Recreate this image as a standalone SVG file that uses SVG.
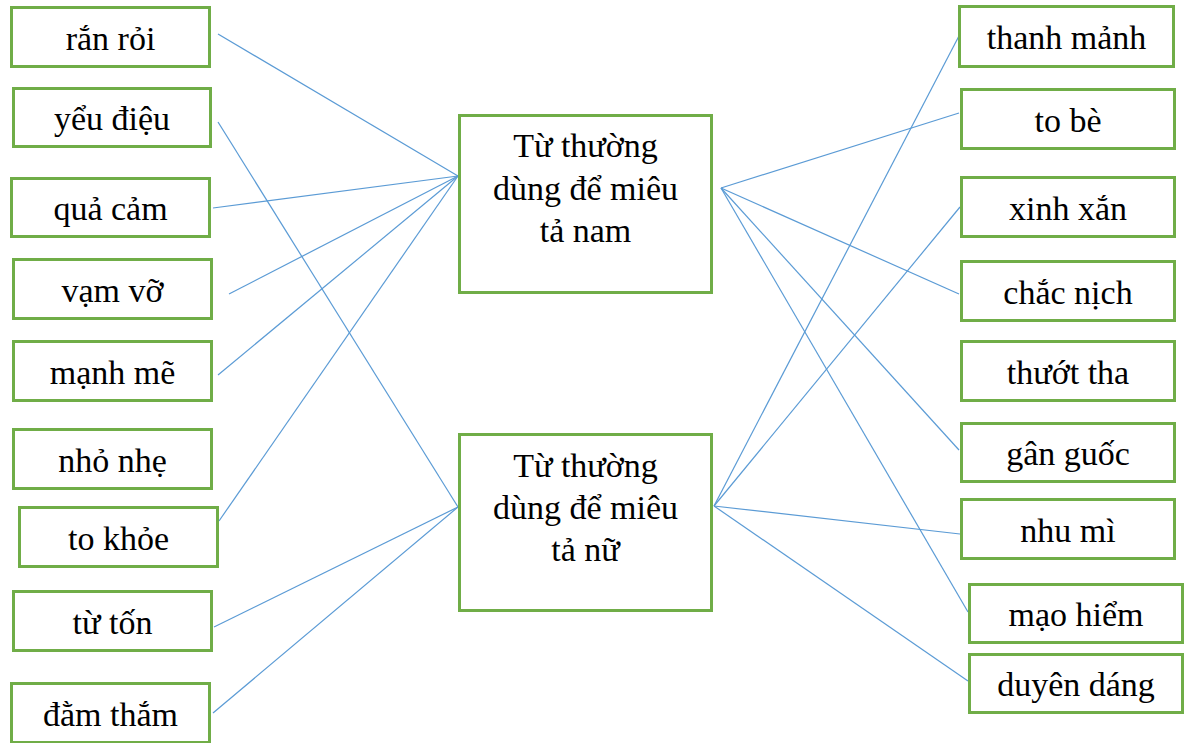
<svg xmlns="http://www.w3.org/2000/svg" width="1184" height="743" viewBox="0 0 1184 743">
  <style>
    .box { fill: #ffffff; stroke: #70AD47; stroke-width: 3; }
    .lbl { font-family: "Liberation Serif", "Times New Roman", serif; font-size: 34px; fill: #000000; text-anchor: middle; }
    .link { stroke: #5B9BD5; stroke-width: 1.2; fill: none; }
  </style>
  <rect width="1184" height="743" fill="#ffffff"/>

  <!-- connectors -->
  <g id="connectors">
    <!-- left words to "nam" -->
    <line class="link" x1="218" y1="34" x2="458" y2="176"/>
    <line class="link" x1="213" y1="208" x2="458" y2="176"/>
    <line class="link" x1="229" y1="294" x2="458" y2="176"/>
    <line class="link" x1="218" y1="375" x2="458" y2="176"/>
    <line class="link" x1="219" y1="521" x2="458" y2="176"/>
    <!-- left words to "nữ" -->
    <line class="link" x1="218" y1="122" x2="458" y2="507"/>
    <line class="link" x1="214" y1="627" x2="458" y2="507"/>
    <line class="link" x1="213" y1="713" x2="458" y2="507"/>
    <!-- "nam" to right words -->
    <line class="link" x1="721" y1="188" x2="959" y2="113"/>
    <line class="link" x1="721" y1="188" x2="959" y2="294"/>
    <line class="link" x1="721" y1="188" x2="959" y2="450"/>
    <line class="link" x1="721" y1="188" x2="968" y2="612"/>
    <!-- "nữ" to right words -->
    <line class="link" x1="714" y1="506" x2="960" y2="34"/>
    <line class="link" x1="714" y1="506" x2="960" y2="207"/>
    <line class="link" x1="714" y1="506" x2="960" y2="534"/>
    <line class="link" x1="714" y1="506" x2="968" y2="681"/>
  </g>

  <!-- left column -->
  <g id="ran-roi"><rect class="box" x="11.5" y="7.5" width="198" height="59"/><text class="lbl" x="110.5" y="49.5">rắn rỏi</text></g>
  <g id="yeu-dieu"><rect class="box" x="13.5" y="88.5" width="197" height="58"/><text class="lbl" x="112" y="130">yểu điệu</text></g>
  <g id="qua-cam"><rect class="box" x="11.5" y="178.5" width="198" height="58"/><text class="lbl" x="110.5" y="220">quả cảm</text></g>
  <g id="vam-vo"><rect class="box" x="13.5" y="259.5" width="198" height="59"/><text class="lbl" x="112.5" y="301.5">vạm vỡ</text></g>
  <g id="manh-me"><rect class="box" x="13.5" y="341.5" width="198" height="59"/><text class="lbl" x="112.5" y="383.5">mạnh mẽ</text></g>
  <g id="nho-nhe"><rect class="box" x="13.5" y="429.5" width="198" height="59"/><text class="lbl" x="112.5" y="471.5">nhỏ nhẹ</text></g>
  <g id="to-khoe"><rect class="box" x="19.5" y="507.5" width="198" height="59"/><text class="lbl" x="118.5" y="549.5">to khỏe</text></g>
  <g id="tu-ton"><rect class="box" x="13.5" y="591.5" width="198" height="59"/><text class="lbl" x="112.5" y="633.5">từ tốn</text></g>
  <g id="dam-tham"><rect class="box" x="11.5" y="683.5" width="198" height="59"/><text class="lbl" x="110.5" y="725.5">đằm thắm</text></g>

  <!-- centre -->
  <g id="nam">
    <rect class="box" x="459.5" y="115.5" width="252" height="177"/>
    <text class="lbl" x="585.5" y="157">Từ thường</text>
    <text class="lbl" x="585.5" y="199.5">dùng để miêu</text>
    <text class="lbl" x="585.5" y="242">tả nam</text>
  </g>
  <g id="nu">
    <rect class="box" x="459.5" y="434.5" width="252" height="176"/>
    <text class="lbl" x="585.5" y="477">Từ thường</text>
    <text class="lbl" x="585.5" y="519">dùng để miêu</text>
    <text class="lbl" x="585.5" y="561">tả nữ</text>
  </g>

  <!-- right column -->
  <g id="thanh-manh"><rect class="box" x="959.5" y="6.5" width="214" height="60"/><text class="lbl" x="1066.5" y="49">thanh mảnh</text></g>
  <g id="to-be"><rect class="box" x="961.5" y="89.5" width="213" height="59"/><text class="lbl" x="1068" y="131.5">to bè</text></g>
  <g id="xinh-xan"><rect class="box" x="961.5" y="177.5" width="213" height="59"/><text class="lbl" x="1068" y="219.5">xinh xắn</text></g>
  <g id="chac-nich"><rect class="box" x="961.5" y="261.5" width="213" height="59"/><text class="lbl" x="1068" y="303.5">chắc nịch</text></g>
  <g id="thuot-tha"><rect class="box" x="961.5" y="341.5" width="213" height="59"/><text class="lbl" x="1068" y="383.5">thướt tha</text></g>
  <g id="gan-guoc"><rect class="box" x="961.5" y="423.5" width="213" height="58"/><text class="lbl" x="1068" y="465">gân guốc</text></g>
  <g id="nhu-mi"><rect class="box" x="961.5" y="499.5" width="213" height="59"/><text class="lbl" x="1068" y="541.5">nhu mì</text></g>
  <g id="mao-hiem"><rect class="box" x="969.5" y="584.5" width="213" height="58"/><text class="lbl" x="1076" y="626">mạo hiểm</text></g>
  <g id="duyen-dang"><rect class="box" x="969.5" y="654.5" width="213" height="58"/><text class="lbl" x="1076" y="696">duyên dáng</text></g>
</svg>
